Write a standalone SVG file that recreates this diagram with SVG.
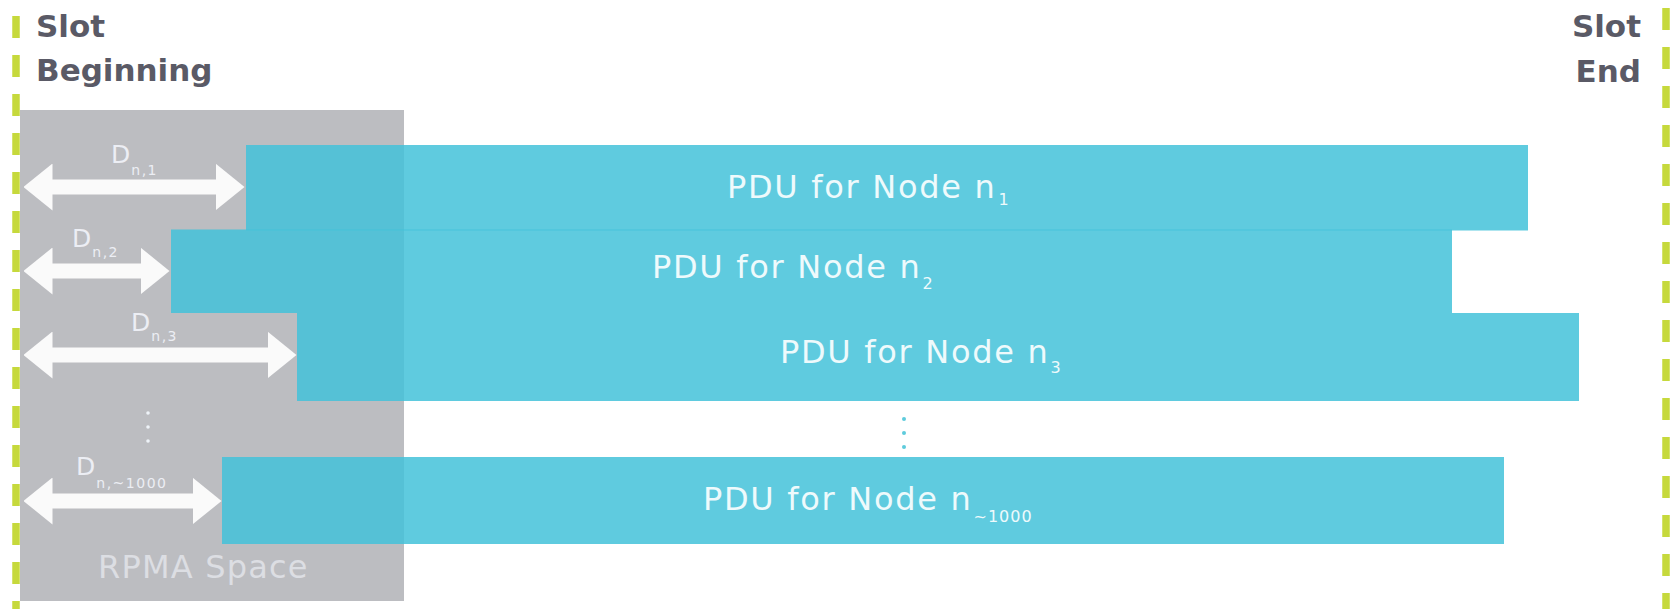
<svg xmlns="http://www.w3.org/2000/svg" width="1672" height="609" viewBox="0 0 1672 609">
<style>
.slot{font-family:"DejaVu Sans",sans-serif;font-weight:bold;font-size:31px;fill:#5a5a66}
.pdu{fill:#43c2d9;fill-opacity:0.85}
.pt{font-family:"DejaVu Sans",sans-serif;font-size:32px;fill:#eefafc;letter-spacing:1.7px}
.ps{font-size:16px;letter-spacing:1px}
.dl{font-family:"DejaVu Sans",sans-serif;font-size:25px;fill:#eceef4}
.ds{font-size:14px;letter-spacing:1.5px}
.arr{stroke:#fafafa;stroke-width:15;fill:none}
.dash{stroke:#c6d93c;stroke-width:7.5;stroke-dasharray:22 17}
</style>
<defs>
<marker id="ah" markerUnits="userSpaceOnUse" viewBox="0 0 29 47" markerWidth="29" markerHeight="47" refX="0.5" refY="23.5" orient="auto-start-reverse">
<path d="M0,0 L29,23.5 L0,47 Z" fill="#fafafa"/>
</marker>
</defs>
<rect width="1672" height="609" fill="#ffffff"/>
<g id="slot-beginning">
<line class="dash" x1="16" y1="16" x2="16" y2="609"/>
<text class="slot" x="36" y="37">Slot</text>
<text class="slot" x="36" y="81">Beginning</text>
</g>
<g id="slot-end">
<line class="dash" x1="1666" y1="8" x2="1666" y2="609"/>
<text class="slot" x="1641" y="37" text-anchor="end">Slot</text>
<text class="slot" x="1641" y="82" text-anchor="end">End</text>
</g>
<g id="rpma-space">
<rect x="20" y="110" width="384" height="491" fill="#bcbdc1"/>
<text x="98" y="578" font-family="DejaVu Sans, sans-serif" font-size="32" fill="#dcdee3" letter-spacing="1.2">RPMA Space</text>
</g>
<g id="pdu-n1">
<rect class="pdu" x="246" y="145" width="1282" height="85.5"/>
<text class="pt" x="727" y="198">PDU for Node n<tspan class="ps" dx="2" dy="7">1</tspan></text>
</g>
<g id="pdu-n2">
<rect class="pdu" x="171" y="229.5" width="1281" height="83.5"/>
<text class="pt" x="652" y="278">PDU for Node n<tspan class="ps" dx="1" dy="11">2</tspan></text>
</g>
<g id="pdu-n3">
<rect class="pdu" x="297" y="313" width="1282" height="88"/>
<text class="pt" x="780" y="363">PDU for Node n<tspan class="ps" dx="1" dy="10">3</tspan></text>
</g>
<g id="pdu-n1000">
<rect class="pdu" x="222" y="457" width="1282" height="87"/>
<text class="pt" x="703" y="510">PDU for Node n<tspan class="ps" dx="1" dy="12">~1000</tspan></text>
</g>
<g id="ellipsis">
<g fill="#5ecbdc">
<circle cx="904" cy="419" r="2"/><circle cx="904" cy="433" r="2"/><circle cx="904" cy="447" r="2"/>
</g>
<g fill="#eef3f8">
<circle cx="148" cy="413" r="1.8"/><circle cx="148" cy="427" r="1.8"/><circle cx="148" cy="441" r="1.8"/>
</g>
</g>
<g id="connectors">
<line class="arr" x1="52" y1="187" x2="216" y2="187" marker-start="url(#ah)" marker-end="url(#ah)"/>
<line class="arr" x1="52" y1="271" x2="141" y2="271" marker-start="url(#ah)" marker-end="url(#ah)"/>
<line class="arr" x1="52" y1="355" x2="268" y2="355" marker-start="url(#ah)" marker-end="url(#ah)"/>
<line class="arr" x1="52" y1="501" x2="193" y2="501" marker-start="url(#ah)" marker-end="url(#ah)"/>
<text class="dl" x="111" y="163">D<tspan class="ds" dx="1" dy="12">n,1</tspan></text>
<text class="dl" x="72" y="247">D<tspan class="ds" dx="1" dy="10">n,2</tspan></text>
<text class="dl" x="131" y="331">D<tspan class="ds" dx="1" dy="10">n,3</tspan></text>
<text class="dl" x="76" y="475">D<tspan class="ds" dx="1" dy="13">n,~1000</tspan></text>
</g>
</svg>
